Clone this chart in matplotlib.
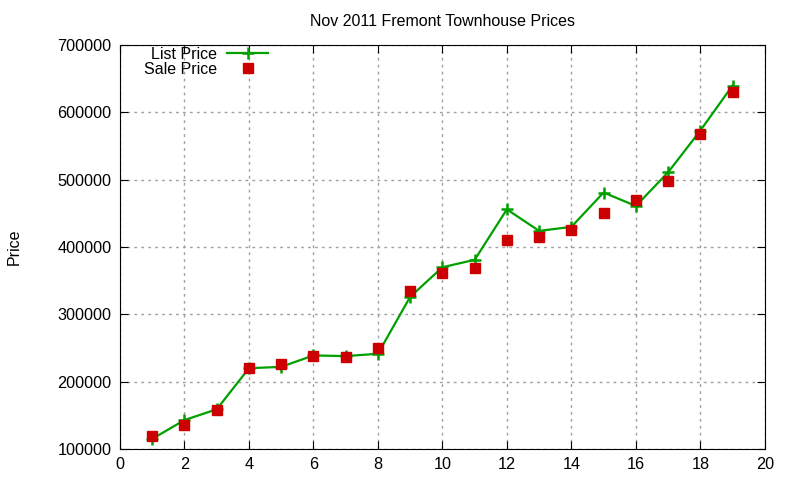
import matplotlib
matplotlib.use('Agg')
import matplotlib.pyplot as plt

plt.rcParams['font.family'] = ['Liberation Sans', 'DejaVu Sans']

# house index and prices
house = [1, 2, 3, 4, 5, 6, 7, 8, 9, 10, 11, 12, 13, 14, 15, 16, 17, 18, 19]
list_price = [115000, 143000, 159000, 220000, 222000, 239000, 238000, 241500,
              326000, 370000, 381000, 456000, 424000, 430000, 481000, 461000,
              511000, 573000, 640000]
sale_price = [119000, 136000, 158000, 221000, 226000, 238000, 237000, 250000,
              335000, 362000, 369000, 410000, 415000, 425000, 451000, 470000,
              498000, 568000, 630000]

fig = plt.figure(figsize=(8, 4.8), dpi=100)
ax = fig.add_axes([0.15, 0.0646, 0.806, 0.8414])

ax.plot(house, list_price, '-+', color='#00a000', lw=1.6, ms=8, mew=1.8,
        label='List Price', zorder=3)
ax.plot(house, sale_price, 's', color='#cc0000', ms=6.5, ls='none',
        label='Sale Price', zorder=4)

ax.set_xlim(0, 20)
ax.set_ylim(100000, 700000)
ax.set_xticks(range(0, 21, 2))
ax.set_yticks(range(100000, 700001, 100000))
ax.tick_params(direction='in', top=True, right=True, labelsize=11.7, length=6,
               pad=6)
ax.ticklabel_format(style='plain', axis='y')
ax.grid(True, color='#a0a0a0', linestyle=(0, (2, 3)), lw=1)
ax.set_axisbelow(True)

ax.set_title('Nov 2011 Fremont Townhouse Prices', fontsize=11.5, pad=14)
ax.set_ylabel('Price', fontsize=11.5)
ax.yaxis.set_label_coords(-0.152, 0.5)

leg = ax.legend(loc='upper left', bbox_to_anchor=(0.025, 1.015), frameon=False,
                markerfirst=False, fontsize=11.5, handlelength=2.6,
                labelspacing=0.0, handletextpad=0.6, borderaxespad=0.1)

fig.savefig('out.png', dpi=100)
